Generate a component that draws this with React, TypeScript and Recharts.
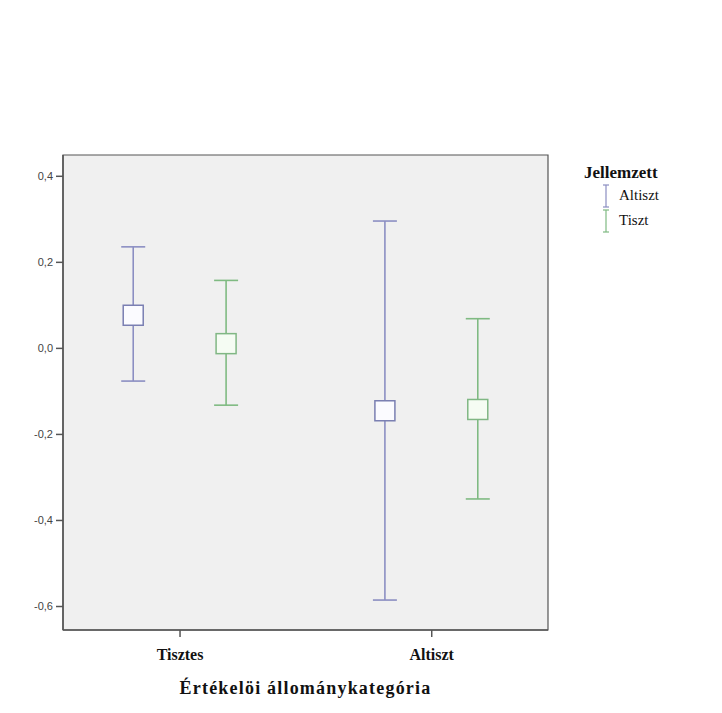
import {
  ErrorBar,
  Label,
  ReferenceArea,
  Scatter,
  ScatterChart,
  XAxis,
  YAxis,
} from 'recharts'

const CATEGORIES = ['Tisztes', 'Altiszt']
const Y_TICKS = [-0.6, -0.4, -0.2, 0, 0.2, 0.4]

// Jellemzett = Altiszt
const ALTISZT_MEAN = [0.077, -0.145]
const ALTISZT_LOW = [-0.076, -0.585]
const ALTISZT_HIGH = [0.236, 0.296]
// Jellemzett = Tiszt
const TISZT_MEAN = [0.011, -0.142]
const TISZT_LOW = [-0.132, -0.35]
const TISZT_HIGH = [0.158, 0.069]

const X_DOMAIN = [-0.465, 1.462]
const Y_DOMAIN = [-0.6546, 0.4495]

const BLUE = '#8b8ec2'
const GREEN = '#7fba82'

const build = (mean: number[], low: number[], high: number[], offset: number) =>
  mean.map((m, i) => ({
    x: i + offset,
    y: m,
    err: [m - low[i], high[i] - m],
  }))

const altisztData = build(ALTISZT_MEAN, ALTISZT_LOW, ALTISZT_HIGH, -0.186)
const tisztData = build(TISZT_MEAN, TISZT_LOW, TISZT_HIGH, 0.183)

const fmt = (v: number) => v.toFixed(1).replace('.', ',')

function Box(props: any, stroke: string, fill: string) {
  const { cx, cy } = props
  return (
    <rect x={cx - 10} y={cy - 10} width={20} height={20} fill={fill} stroke={stroke} strokeWidth={1.5} />
  )
}

function LegendIcon({ color }: { color: string }) {
  return (
    <svg width={10} height={24} style={{ marginRight: 8 }}>
      <line x1={5} y1={1} x2={5} y2={23} stroke={color} strokeWidth={1.2} />
      <line x1={2} y1={1} x2={8} y2={1} stroke={color} strokeWidth={1.2} />
      <line x1={2} y1={23} x2={8} y2={23} stroke={color} strokeWidth={1.2} />
    </svg>
  )
}

export default function App() {
  const serif = '"Liberation Serif", "Times New Roman", serif'
  return (
    <div style={{ position: 'absolute', left: 0, top: 0, width: 722, height: 713, background: '#fff' }}>
      <ScatterChart width={722} height={713} margin={{ top: 155, right: 174, left: 13, bottom: 13 }}>
        <ReferenceArea
          x1={X_DOMAIN[0]}
          x2={X_DOMAIN[1]}
          y1={Y_DOMAIN[0]}
          y2={Y_DOMAIN[1]}
          fill="#f0f0f0"
          fillOpacity={1}
          stroke="#555"
          strokeWidth={1.2}
        />
        <XAxis
          type="number"
          dataKey="x"
          domain={X_DOMAIN}
          ticks={[0, 1]}
          tickFormatter={(i: number) => CATEGORIES[i]}
          allowDataOverflow
          height={70}
          stroke="#555"
          strokeWidth={1.5}
          tickSize={7}
          tickMargin={12}
          tick={{ fontFamily: serif, fontSize: 16, fill: '#111', fontWeight: 700 }}
        >
          <Label
            value="Értékelöi állománykategória"
            position="insideBottom"
            offset={6}
            style={{ fontFamily: serif, fontSize: 18, fontWeight: 700, fill: '#111', letterSpacing: 1.2 }}
          />
        </XAxis>
        <YAxis
          type="number"
          dataKey="y"
          domain={Y_DOMAIN}
          ticks={Y_TICKS}
          tickFormatter={fmt}
          allowDataOverflow
          width={50}
          stroke="#555"
          strokeWidth={1.5}
          tickSize={7}
          tickMargin={3}
          tick={{ fontFamily: '"Liberation Sans", Arial, sans-serif', fontSize: 11, fill: '#444' }}
        />
        <Scatter
          data={altisztData}
          fill={BLUE}
          isAnimationActive={false}
          shape={(p: any) => Box(p, '#7a7fb2', '#fbfbff')}
        >
          <ErrorBar dataKey="err" direction="y" width={12} stroke={BLUE} strokeWidth={1.6} />
        </Scatter>
        <Scatter
          data={tisztData}
          fill={GREEN}
          isAnimationActive={false}
          shape={(p: any) => Box(p, '#80b784', '#f5fcf3')}
        >
          <ErrorBar dataKey="err" direction="y" width={12} stroke={GREEN} strokeWidth={1.6} />
        </Scatter>
      </ScatterChart>
      <div style={{ position: 'absolute', left: 584, top: 163, fontFamily: serif, color: '#111' }}>
        <div style={{ fontWeight: 700, fontSize: 17, height: 20 }}>Jellemzett</div>
        <div style={{ display: 'flex', alignItems: 'center', marginLeft: 17, fontSize: 15, height: 25 }}>
          <LegendIcon color={BLUE} />
          Altiszt
        </div>
        <div style={{ display: 'flex', alignItems: 'center', marginLeft: 17, fontSize: 15, height: 25 }}>
          <LegendIcon color={GREEN} />
          Tiszt
        </div>
      </div>
    </div>
  )
}
